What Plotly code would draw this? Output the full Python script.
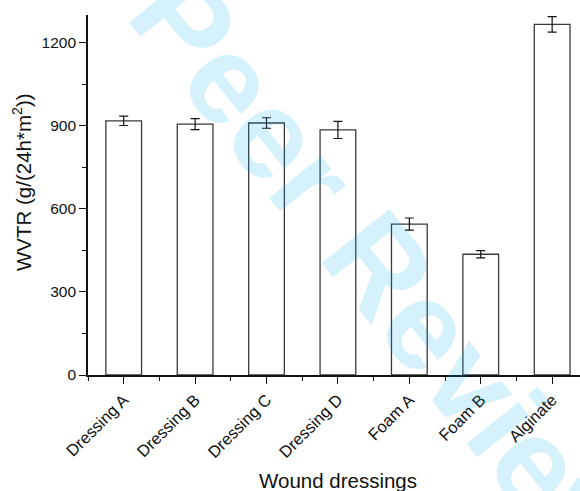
import plotly.graph_objects as go

categories = ["Dressing A", "Dressing B", "Dressing C", "Dressing D", "Foam A", "Foam B", "Alginate"]
wvtr = [918, 906, 910, 885, 545, 436, 1266]
wvtr_err = [17, 20, 19, 31, 22, 13, 28]
y_ticks = [0, 300, 600, 900, 1200]
y_minor = [150, 450, 750, 1050]

W, H = 580, 491
L, R, T, B = 88, 0, 15, 116
pw, ph = W - L - R, H - T - B

xpos = list(range(len(categories)))

fig = go.Figure()
fig.add_trace(go.Bar(
    x=xpos, y=wvtr, width=0.5,
    marker=dict(color="rgba(255,255,255,0)", line=dict(color="#3a3a3a", width=1.3)),
    error_y=dict(type="data", array=wvtr_err, visible=True, color="#111111", thickness=1.2, width=4.5),
    showlegend=False,
))

font_family = "Liberation Sans, Arial, sans-serif"

fig.update_layout(
    width=W, height=H,
    margin=dict(l=L, r=R, t=T, b=B, pad=0),
    paper_bgcolor="white", plot_bgcolor="white",
    font=dict(family=font_family, color="#111111", size=15),
    xaxis=dict(
        range=[-0.5, 6.39],
        tickmode="array", tickvals=xpos, ticktext=categories,
        tickangle=-45, tickfont=dict(size=16.5),
        ticks="outside", ticklen=7, tickwidth=1.3, tickcolor="#111111",
        minor=dict(tickmode="array", tickvals=[i - 0.5 for i in range(len(categories))],
                   ticks="outside", ticklen=4, tickwidth=1.3, tickcolor="#111111"),
        showline=True, linecolor="#111111", linewidth=1.6,
        showgrid=False, zeroline=False,
    ),
    yaxis=dict(
        range=[0, 1300],
        tickmode="array", tickvals=y_ticks, tickfont=dict(size=15.5),
        ticks="outside", ticklen=7, tickwidth=1.3, tickcolor="#111111",
        minor=dict(tickmode="array", tickvals=y_minor,
                   ticks="outside", ticklen=4, tickwidth=1.3, tickcolor="#111111"),
        showline=True, linecolor="#111111", linewidth=1.6,
        showgrid=False, zeroline=False,
    ),
)

def px_to_paper(px, py):
    # window pixel -> paper coords
    return (px - L) / pw, (H - B - py) / ph

# axis titles
tx, ty = px_to_paper(338, 467)
fig.add_annotation(text="Wound dressings", xref="paper", yref="paper", x=tx, y=ty,
                   xanchor="center", yanchor="top", showarrow=False,
                   font=dict(size=20.5, family=font_family, color="#111111"))
yx, yy = px_to_paper(22, 182)
fig.add_annotation(text="WVTR (g/(24h*m<sup>2</sup>))", xref="paper", yref="paper", x=yx, y=yy,
                   xanchor="center", yanchor="middle", showarrow=False, textangle=-90,
                   font=dict(size=20.5, family=font_family, color="#111111"))

# watermark
cx, cy = px_to_paper(390, 278)
fig.add_annotation(
    text="<b>Peer Review</b>", xref="paper", yref="paper",
    x=cx, y=cy, xanchor="center", yanchor="middle", showarrow=False,
    textangle=51.3, font=dict(size=126, family=font_family, color="rgba(0,172,238,0.17)"),
)

fig.write_html(
    "out.html",
    config={"displayModeBar": False},
    post_script="document.body.style.margin='0';document.body.style.overflow='hidden';",
)
